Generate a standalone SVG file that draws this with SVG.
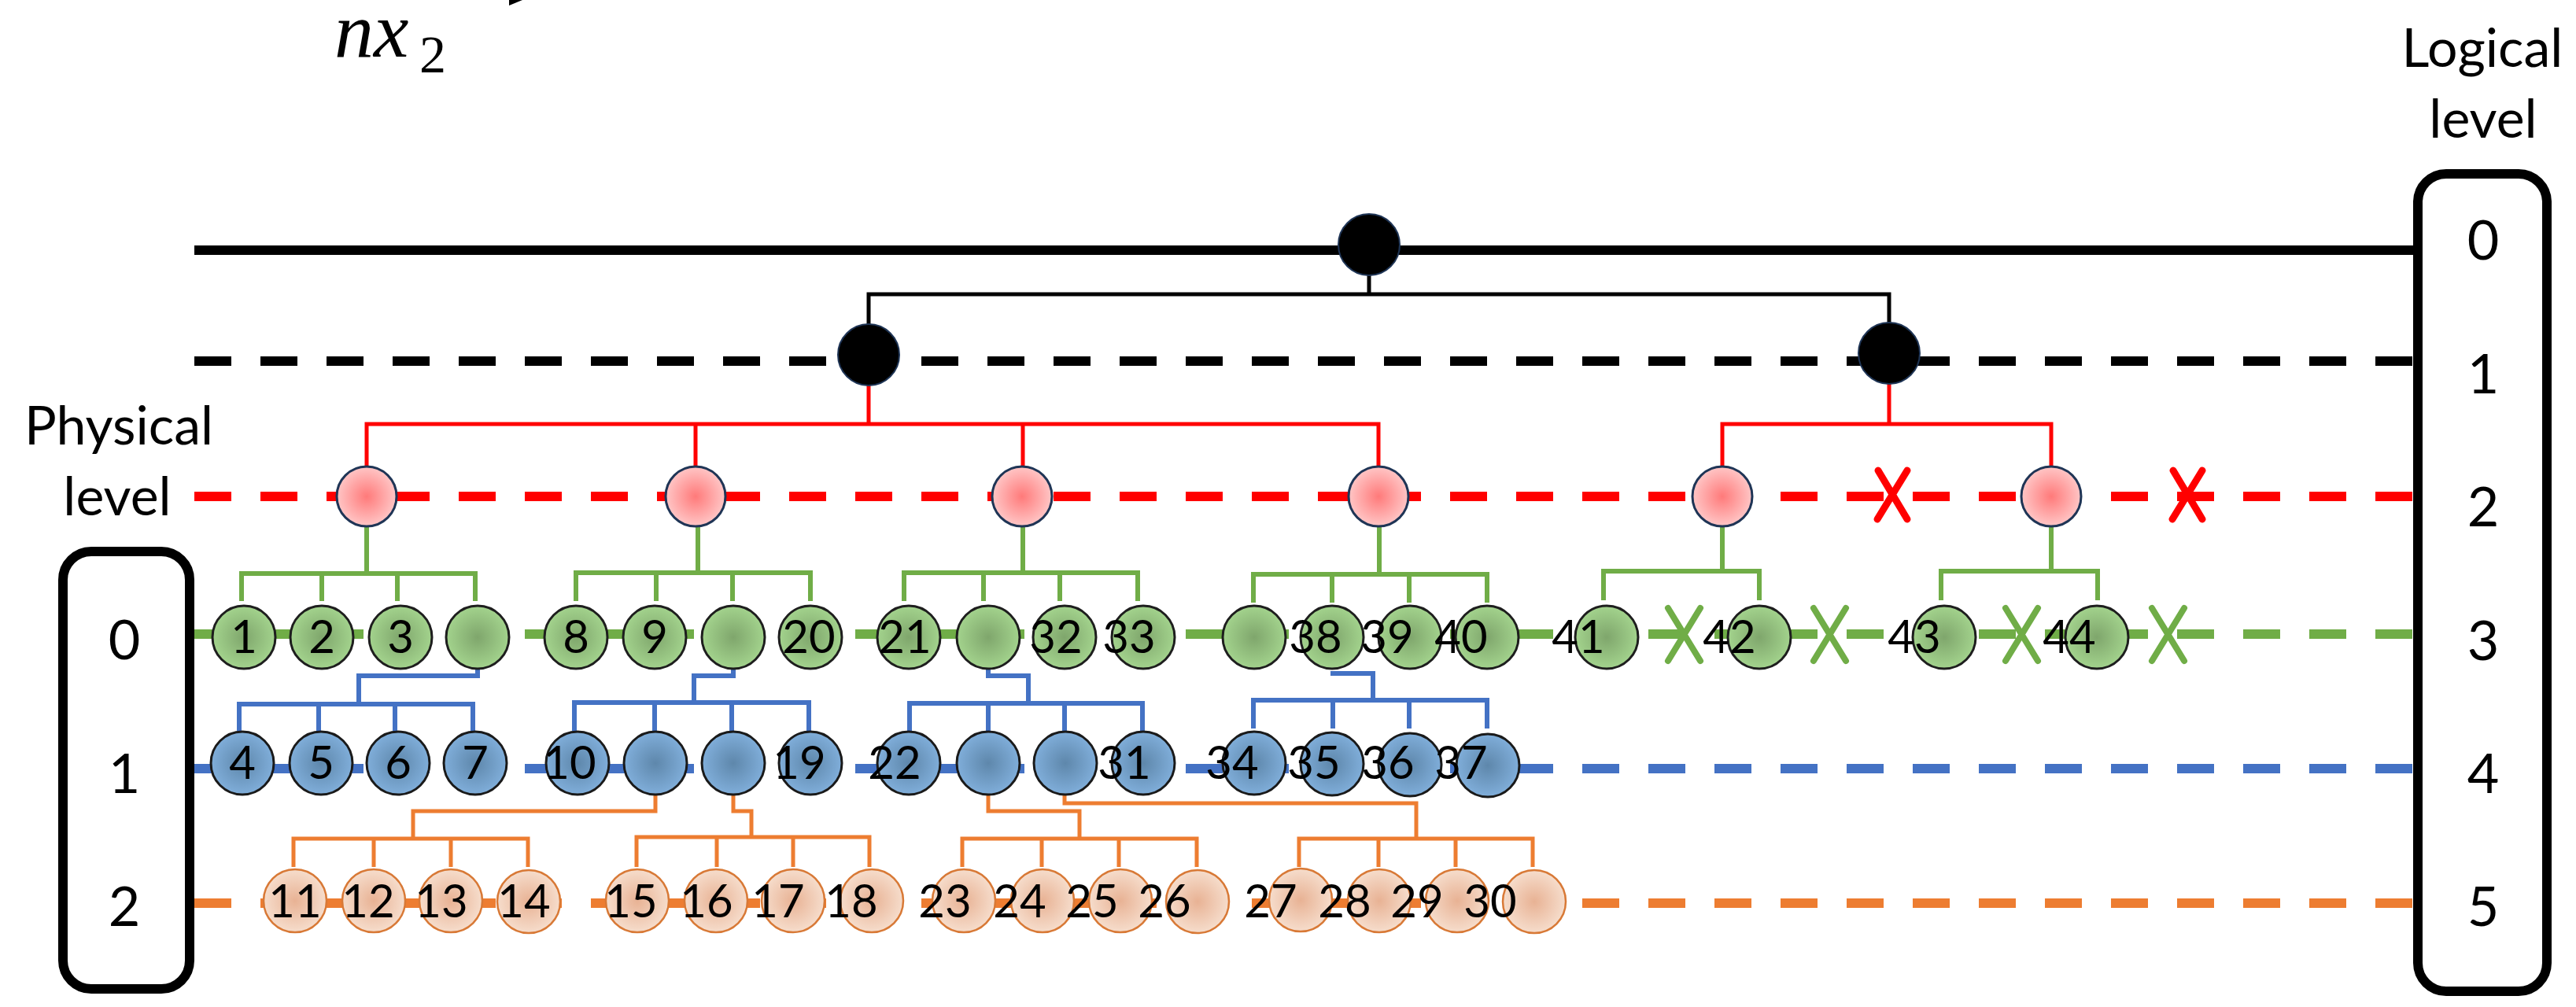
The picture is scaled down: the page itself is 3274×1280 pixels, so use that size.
<svg xmlns="http://www.w3.org/2000/svg" width="3274" height="1280" viewBox="0 0 3274 1280">
<defs>
<radialGradient id="gG"><stop offset="0" stop-color="#7FA66C"/><stop offset="1" stop-color="#A3D38D"/></radialGradient>
<radialGradient id="gB"><stop offset="0" stop-color="#5E87AB"/><stop offset="1" stop-color="#80AEDA"/></radialGradient>
<radialGradient id="gR"><stop offset="0" stop-color="#FF7A7A"/><stop offset="1" stop-color="#FFC6C6"/></radialGradient>
<radialGradient id="gO"><stop offset="0" stop-color="#E8B294"/><stop offset="1" stop-color="#F6DDCC"/></radialGradient>
<style>
.lvl{fill:none;stroke-width:12;stroke-dasharray:47 37}
.cb{fill:none;stroke:#000;stroke-width:5}
.cr{fill:none;stroke:#FF0000;stroke-width:5}
.cg{fill:none;stroke:#70AD47;stroke-width:6}
.cbl{fill:none;stroke:#4472C4;stroke-width:6}
.co{fill:none;stroke:#ED7D31;stroke-width:5}
.nk{fill:#000;stroke:#1F3556;stroke-width:2}
.nr{fill:url(#gR);stroke:#1F3556;stroke-width:3}
.ng{fill:url(#gG);stroke:#1E1E1E;stroke-width:3}
.nb{fill:url(#gB);stroke:#1A1A1A;stroke-width:3}
.no{fill:url(#gO);stroke:#D87936;stroke-width:2.5}
.t{font-family:Lato,'Open Sans','Liberation Sans',sans-serif;font-size:58px;fill:#000;text-anchor:middle}
.lab{font-family:Lato,'Open Sans','Liberation Sans',sans-serif;font-size:68px;fill:#000;text-anchor:middle}
.dig{font-family:Lato,'Open Sans','Liberation Sans',sans-serif;font-size:70px;fill:#000;text-anchor:middle}
.box{fill:none;stroke:#000;stroke-width:12}
.xr{stroke:#FF0000;stroke-width:9;stroke-linecap:round;fill:none}
.xg{stroke:#70AD47;stroke-width:8;stroke-linecap:round;fill:none}
</style>
</defs>
<rect width="3274" height="1280" fill="#fff"/>

<g id="top-mark">
<polygon points="647,0 647,7 664,0" fill="#000"/>
<text x="425" y="72" font-family="'Liberation Serif',serif" font-style="italic" font-size="100">nx</text>
<text x="533" y="92" font-family="'Liberation Serif',serif" font-size="68">2</text>
</g>

<g id="level-lines">
<line x1="247" y1="318" x2="3067" y2="318" stroke="#000" stroke-width="12"/>
<line class="lvl" x1="247" y1="459" x2="3067" y2="459" stroke="#000"/>
<line class="lvl" x1="247" y1="631" x2="3067" y2="631" stroke="#FF0000"/>
<line class="lvl" x1="247" y1="806" x2="3067" y2="806" stroke="#70AD47"/>
<line class="lvl" x1="247" y1="977" x2="3067" y2="977" stroke="#4472C4"/>
<line class="lvl" x1="247" y1="1148" x2="3067" y2="1148" stroke="#ED7D31"/>
</g>

<g id="connectors">
<path class="cb" d="M1740,350 V374 H1104 V412 M1740,374 H2401 V410"/>
<path class="cr" d="M1104,490 V539 M466,593 V539 H1752 V593 M884,539 V593 M1300,539 V593"/>
<path class="cr" d="M2401,488 V539 M2189,593 V539 H2607 V593"/>
<path class="cg" d="M466,669 V729 M307,764 V729 H604 V764 M409,729 V764 M505,729 V764"/>
<path class="cg" d="M887,669 V728 M732,764 V728 H1030 V764 M834,728 V764 M931,728 V764"/>
<path class="cg" d="M1300,669 V728 M1149,764 V728 H1446 V764 M1250,728 V764 M1347,728 V764"/>
<path class="cg" d="M1753,669 V730 M1593,766 V730 H1890 V766 M1693,730 V766 M1791,730 V766"/>
<path class="cg" d="M2189,669 V726 M2038,763 V726 H2236 V763"/>
<path class="cg" d="M2607,669 V726 M2467,763 V726 H2666 V763"/>
<path class="cbl" d="M607,851 V859 H456 V895 M304,929 V895 H601 V929 M405,895 V929 M502,895 V929"/>
<path class="cbl" d="M932,851 V859 H882 V893 M730,929 V893 H1028 V929 M832,893 V929 M930,893 V929"/>
<path class="cbl" d="M1256,851 V859 H1307 V894 M1156,929 V894 H1452 V929 M1256,894 V929 M1353,894 V929"/>
<path class="cbl" d="M1691,856 H1745 V890 M1593,926 V890 H1890 V926 M1694,890 V926 M1791,890 V926"/>
<path class="co" d="M833,1010 V1031 H525 V1066 M373,1102 V1066 H671 V1102 M475,1066 V1102 M573,1066 V1102"/>
<path class="co" d="M932,1010 V1031 H955 V1064 M809,1102 V1064 H1105 V1102 M911,1064 V1102 M1008,1064 V1102"/>
<path class="co" d="M1256,1010 V1031 H1372 V1066 M1223,1102 V1066 H1521 V1102 M1324,1066 V1102 M1422,1066 V1102"/>
<path class="co" d="M1353,1010 V1021 H1800 V1066 M1651,1102 V1066 H1948 V1102 M1752,1066 V1102 M1850,1066 V1102"/>
</g>

<g id="root"><circle class="nk" cx="1740" cy="311" r="39"/></g>
<g id="l1a"><circle class="nk" cx="1104" cy="451" r="39"/></g>
<g id="l1b"><circle class="nk" cx="2401" cy="449" r="39"/></g>

<g id="r1"><circle class="nr" cx="466" cy="631" r="38"/></g>
<g id="r2"><circle class="nr" cx="884" cy="631" r="38"/></g>
<g id="r3"><circle class="nr" cx="1299" cy="631" r="38"/></g>
<g id="r4"><circle class="nr" cx="1752" cy="631" r="38"/></g>
<g id="r5"><circle class="nr" cx="2189" cy="631" r="38"/></g>
<g id="r6"><circle class="nr" cx="2607" cy="631" r="38"/></g>

<g id="g1"><circle class="ng" cx="310" cy="810" r="40"/><text class="t" x="310" y="830">1</text></g>
<g id="g2"><circle class="ng" cx="409" cy="810" r="40"/><text class="t" x="409" y="830">2</text></g>
<g id="g3"><circle class="ng" cx="509" cy="810" r="40"/><text class="t" x="509" y="830">3</text></g>
<g id="g4"><circle class="ng" cx="607" cy="810" r="40"/></g>
<g id="g8"><circle class="ng" cx="732" cy="810" r="40"/><text class="t" x="732" y="830">8</text></g>
<g id="g9"><circle class="ng" cx="832" cy="810" r="40"/><text class="t" x="832" y="830">9</text></g>
<g id="g10"><circle class="ng" cx="932" cy="810" r="40"/></g>
<g id="g20"><circle class="ng" cx="1030" cy="810" r="40"/><text class="t" x="1028" y="830">20</text></g>
<g id="g21"><circle class="ng" cx="1155" cy="810" r="40"/><text class="t" x="1150" y="830">21</text></g>
<g id="g22"><circle class="ng" cx="1256" cy="810" r="40"/></g>
<g id="g32"><circle class="ng" cx="1353" cy="810" r="40"/><text class="t" x="1342" y="830">32</text></g>
<g id="g33"><circle class="ng" cx="1453" cy="810" r="40"/><text class="t" x="1435" y="830">33</text></g>
<g id="g34"><circle class="ng" cx="1594" cy="810" r="40"/></g>
<g id="g38"><circle class="ng" cx="1693" cy="810" r="40"/><text class="t" x="1672" y="830">38</text></g>
<g id="g39"><circle class="ng" cx="1792" cy="810" r="40"/><text class="t" x="1763" y="830">39</text></g>
<g id="g40"><circle class="ng" cx="1890" cy="810" r="40"/><text class="t" x="1857" y="830">40</text></g>
<g id="g41"><circle class="ng" cx="2042" cy="810" r="40"/><text class="t" x="2006" y="830">41</text></g>
<g id="g42"><circle class="ng" cx="2236" cy="810" r="40"/><text class="t" x="2198" y="830">42</text></g>
<g id="g43"><circle class="ng" cx="2471" cy="810" r="40"/><text class="t" x="2433" y="830">43</text></g>
<g id="g44"><circle class="ng" cx="2665" cy="810" r="40"/><text class="t" x="2630" y="830">44</text></g>

<g id="b4"><circle class="nb" cx="308" cy="970" r="40"/><text class="t" x="308" y="990">4</text></g>
<g id="b5"><circle class="nb" cx="408" cy="970" r="40"/><text class="t" x="408" y="990">5</text></g>
<g id="b6"><circle class="nb" cx="506" cy="970" r="40"/><text class="t" x="506" y="990">6</text></g>
<g id="b7"><circle class="nb" cx="604" cy="970" r="40"/><text class="t" x="604" y="990">7</text></g>
<g id="b10"><circle class="nb" cx="734" cy="970" r="40"/><text class="t" x="724" y="990">10</text></g>
<g id="b11"><circle class="nb" cx="833" cy="970" r="40"/></g>
<g id="b15"><circle class="nb" cx="932" cy="970" r="40"/></g>
<g id="b19"><circle class="nb" cx="1030" cy="970" r="40"/><text class="t" x="1016" y="990">19</text></g>
<g id="b22"><circle class="nb" cx="1155" cy="970" r="40"/><text class="t" x="1137" y="990">22</text></g>
<g id="b23"><circle class="nb" cx="1256" cy="970" r="40"/></g>
<g id="b27"><circle class="nb" cx="1354" cy="970" r="40"/></g>
<g id="b31"><circle class="nb" cx="1453" cy="970" r="40"/><text class="t" x="1429" y="990">31</text></g>
<g id="b34"><circle class="nb" cx="1594" cy="970" r="40"/><text class="t" x="1566" y="990">34</text></g>
<g id="b35"><circle class="nb" cx="1693" cy="971" r="40"/><text class="t" x="1670" y="990">35</text></g>
<g id="b36"><circle class="nb" cx="1792" cy="972" r="40"/><text class="t" x="1764" y="990">36</text></g>
<g id="b37"><circle class="nb" cx="1891" cy="973" r="40"/><text class="t" x="1857" y="990">37</text></g>

<g id="o11"><circle class="no" cx="375" cy="1145" r="40"/><text class="t" x="375" y="1166">11</text></g>
<g id="o12"><circle class="no" cx="475" cy="1145" r="40"/><text class="t" x="468" y="1166">12</text></g>
<g id="o13"><circle class="no" cx="573" cy="1145" r="40"/><text class="t" x="561" y="1166">13</text></g>
<g id="o14"><circle class="no" cx="672" cy="1146" r="40"/><text class="t" x="666" y="1166">14</text></g>
<g id="o15"><circle class="no" cx="810" cy="1145" r="40"/><text class="t" x="802" y="1166">15</text></g>
<g id="o16"><circle class="no" cx="910" cy="1145" r="40"/><text class="t" x="898" y="1166">16</text></g>
<g id="o17"><circle class="no" cx="1008" cy="1145" r="40"/><text class="t" x="989" y="1166">17</text></g>
<g id="o18"><circle class="no" cx="1108" cy="1145" r="40"/><text class="t" x="1082" y="1166">18</text></g>
<g id="o23"><circle class="no" cx="1225" cy="1145" r="40"/><text class="t" x="1201" y="1166">23</text></g>
<g id="o24"><circle class="no" cx="1325" cy="1145" r="40"/><text class="t" x="1296" y="1166">24</text></g>
<g id="o25"><circle class="no" cx="1424" cy="1145" r="40"/><text class="t" x="1388" y="1166">25</text></g>
<g id="o26"><circle class="no" cx="1522" cy="1146" r="40"/><text class="t" x="1480" y="1166">26</text></g>
<g id="o27"><circle class="no" cx="1653" cy="1144" r="40"/><text class="t" x="1615" y="1166">27</text></g>
<g id="o28"><circle class="no" cx="1753" cy="1145" r="40"/><text class="t" x="1709" y="1166">28</text></g>
<g id="o29"><circle class="no" cx="1852" cy="1145" r="40"/><text class="t" x="1801" y="1166">29</text></g>
<g id="o30"><circle class="no" cx="1950" cy="1146" r="40"/><text class="t" x="1894" y="1166">30</text></g>

<g id="failures">
<path class="xr" d="M2387,598 L2424,660 M2424,598 L2386,660"/>
<path class="xr" d="M2762,598 L2799,660 M2799,598 L2761,660"/>
<path class="xg" d="M2120,773 L2161,840 M2161,773 L2120,840"/>
<path class="xg" d="M2305,773 L2346,840 M2346,773 L2305,840"/>
<path class="xg" d="M2549,773 L2590,840 M2590,773 L2549,840"/>
<path class="xg" d="M2735,773 L2776,840 M2776,773 L2735,840"/>
</g>

<g id="physical-level">
<text class="lab" x="151" y="565">Physical</text>
<text class="lab" x="149" y="655">level</text>
<rect class="box" x="80" y="701" width="161" height="556" rx="36"/>
<text class="dig" x="158" y="838">0</text>
<text class="dig" x="158" y="1008">1</text>
<text class="dig" x="158" y="1177">2</text>
</g>

<g id="logical-level">
<text class="lab" x="3155" y="85">Logical</text>
<text class="lab" x="3156" y="175">level</text>
<rect class="box" x="3073" y="221" width="164" height="1039" rx="36"/>
<text class="dig" x="3156" y="330">0</text>
<text class="dig" x="3156" y="500">1</text>
<text class="dig" x="3156" y="669">2</text>
<text class="dig" x="3156" y="839">3</text>
<text class="dig" x="3156" y="1008">4</text>
<text class="dig" x="3156" y="1177">5</text>
</g>
</svg>
